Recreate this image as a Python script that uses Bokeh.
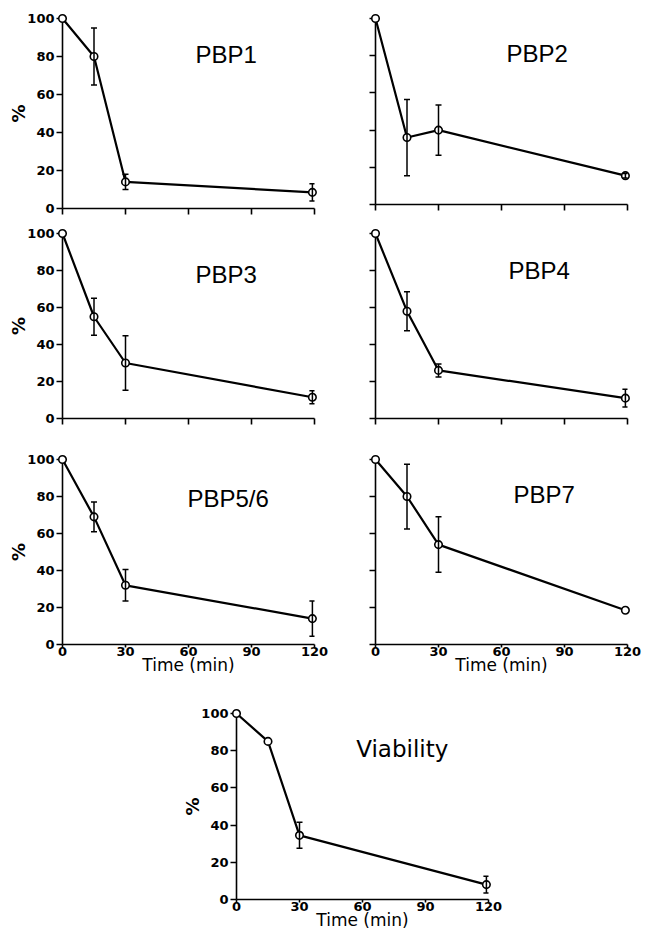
from bokeh.plotting import figure
from bokeh.models import (ColumnDataSource, Whisker, TeeHead, FixedTicker, Label,
                          Range1d, Spacer, CustomJSTickFormatter)
from bokeh.layouts import row, column
from bokeh.embed import file_html
from bokeh.resources import INLINE

# ---------------- data ----------------
time_min = [0, 15, 30, 119]
x_ticks = [0, 30, 60, 90, 120]
y_ticks = [0, 20, 40, 60, 80, 100]

pbp1 = [100, 80, 14, 8.5]
pbp1_err = [0, 15, 4, 4.5]
pbp2 = [100, 36, 40, 15.5]
pbp2_err = [0, 20.5, 13.5, 1.2]
pbp3 = [100, 55, 30, 11.5]
pbp3_err = [0, 10, 14.7, 3.5]
pbp4 = [100, 58, 26, 11]
pbp4_err = [0, 10.5, 3.5, 4.8]
pbp56 = [100, 69, 32, 14]
pbp56_err = [0, 8, 8.5, 9.5]
pbp7 = [100, 80, 54, 18.5]
pbp7_err = [0, 17.5, 15, 0]
viability = [100, 85, 34.5, 8]
viability_err = [0, 0, 7, 4.5]

TICK_FONT = "DejaVu Sans"


def panel(name, vals, errs, *, frame_h, mbl, mbr, mbt, mbb, tx, ty,
          ylab, xlab, title_font="Liberation Sans", title_size="24px"):
    p = figure(frame_width=252, frame_height=frame_h,
               x_range=Range1d(0, 120), y_range=Range1d(0, 100),
               output_backend="svg", toolbar_location=None,
               min_border_left=mbl, min_border_right=mbr,
               min_border_top=mbt, min_border_bottom=mbb)
    p.outline_line_color = None
    p.grid.visible = False
    p.background_fill_color = "white"
    p.border_fill_color = "white"

    for ax in (p.xaxis[0], p.yaxis[0]):
        ax.axis_line_width = 1.6
        ax.axis_line_color = "black"
        ax.major_tick_line_width = 1.6
        ax.major_tick_line_color = "black"
        ax.major_tick_in = 0
        ax.minor_tick_line_color = None
        ax.major_label_text_font = TICK_FONT
        ax.major_label_text_font_style = "bold"
        ax.major_label_text_font_size = "13px"
        ax.major_label_text_color = "black"
        ax.axis_label_text_color = "black"

    xa = p.xaxis[0]
    ya = p.yaxis[0]
    xa.ticker = FixedTicker(ticks=x_ticks)
    ya.ticker = FixedTicker(ticks=y_ticks)

    ya.major_tick_out = 6
    ya.major_label_standoff = 2
    if ylab:
        ya.axis_label = "%"
        ya.axis_label_text_font = TICK_FONT
        ya.axis_label_text_font_style = "bold"
        ya.axis_label_text_font_size = "18px"
        ya.axis_label_standoff = -5
    else:
        ya.major_label_standoff = 0
        ya.formatter = CustomJSTickFormatter(code="return ''")

    if xlab:
        xa.major_tick_out = 3
        xa.major_label_standoff = -1
        xa.axis_label = "Time (min)"
        xa.axis_label_text_font = TICK_FONT
        xa.axis_label_text_font_style = "normal"
        xa.axis_label_text_font_size = "17px"
        xa.axis_label_standoff = -4
    else:
        xa.major_tick_out = 6
        xa.major_label_standoff = 0
        xa.formatter = CustomJSTickFormatter(code="return ''")

    src = ColumnDataSource(dict(x=time_min, y=vals))
    p.line("x", "y", source=src, line_color="black", line_width=2.2, level="overlay")

    ex = [t for t, e in zip(time_min, errs) if e > 0]
    ey = [v for v, e in zip(vals, errs) if e > 0]
    ee = [e for e in errs if e > 0]
    esrc = ColumnDataSource(dict(x=ex, lo=[a - b for a, b in zip(ey, ee)],
                                 hi=[a + b for a, b in zip(ey, ee)]))
    w = Whisker(source=esrc, base="x", lower="lo", upper="hi",
                line_color="black", line_width=1.5, level="overlay",
                upper_head=TeeHead(size=6, line_width=1.5, line_color="black"),
                lower_head=TeeHead(size=6, line_width=1.5, line_color="black"))
    p.add_layout(w)

    p.scatter("x", "y", source=src, size=7.5, marker="circle", fill_color="white",
              line_color="black", line_width=1.6, level="overlay")

    p.add_layout(Label(x=tx, y=ty, text=name, text_font=title_font,
                       text_font_size=title_size, text_color="black",
                       text_baseline="alphabetic", text_align="left"))
    return p


p1 = panel("PBP1", pbp1, pbp1_err, frame_h=190, mbl=62, mbr=21, mbt=14, mbb=21,
           tx=63.3, ty=81, ylab=True, xlab=False)
p2 = panel("PBP2", pbp2, pbp2_err, frame_h=186, mbl=40, mbr=15, mbt=18, mbb=21,
           tx=62.4, ty=81, ylab=False, xlab=False)
p3 = panel("PBP3", pbp3, pbp3_err, frame_h=185, mbl=62, mbr=21, mbt=8, mbb=32,
           tx=63.3, ty=78, ylab=True, xlab=False)
p4 = panel("PBP4", pbp4, pbp4_err, frame_h=185, mbl=40, mbr=15, mbt=8, mbb=32,
           tx=63.3, ty=80, ylab=False, xlab=False)
p5 = panel("PBP5/6", pbp56, pbp56_err, frame_h=185, mbl=62, mbr=21, mbt=9, mbb=60,
           tx=59.5, ty=78.7, ylab=True, xlab=True)
p6 = panel("PBP7", pbp7, pbp7_err, frame_h=185, mbl=40, mbr=15, mbt=9, mbb=60,
           tx=65.7, ty=81, ylab=False, xlab=True)
p7 = panel("Viability", viability, viability_err, frame_h=186, mbl=54, mbr=15, mbt=9, mbb=33,
           tx=57, ty=81, ylab=True, xlab=True, title_font="DejaVu Sans", title_size="23px")

layout = column(row(p1, p2), row(p3, p4), row(p5, p6),
                row(Spacer(width=179, height=10), p7), spacing=0)

open("out.html", "w").write(file_html(layout, INLINE))
